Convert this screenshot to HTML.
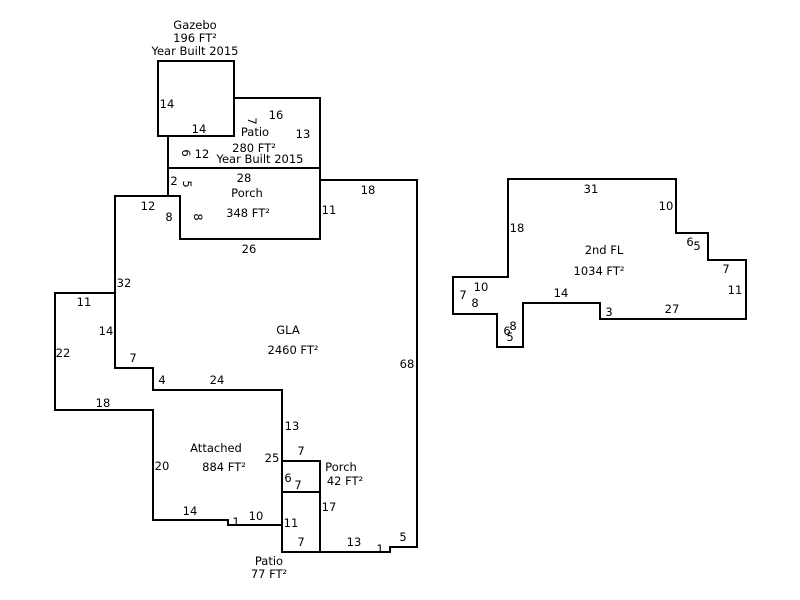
<!DOCTYPE html>
<html><head><style>
html,body{margin:0;padding:0;background:#fff;width:800px;height:600px;overflow:hidden}
svg text{font-family:"DejaVu Sans","Liberation Sans",sans-serif;font-size:11.5px;fill:#000;text-anchor:middle}
</style></head><body>
<svg width="800" height="600" viewBox="0 0 800 600" xmlns="http://www.w3.org/2000/svg">
<g fill="none" stroke="#000" stroke-width="2">
<rect x="158" y="61" width="76" height="75"/>
<polyline points="168,136 168,196"/>
<polyline points="234,98 320,98 320,239 180,239 180,196 115,196 115,368 153,368 153,390 282,390 282,552 390,552 390,547 417,547 417,180 320,180"/>
<line x1="168" y1="168" x2="320" y2="168"/>
<polyline points="115,293 55,293 55,410 153,410 153,520 228,520 228,525 282,525"/>
<polyline points="282,461 320,461 320,552 282,552"/>
<line x1="282" y1="492" x2="320" y2="492"/>
<polygon points="508,179 676,179 676,233 708,233 708,260 746,260 746,319 600,319 600,303 523,303 523,347 497,347 497,314 453,314 453,277 508,277"/>
</g>
<text x="195" y="29">Gazebo</text>
<text x="195" y="42">196 FT²</text>
<text x="195" y="55">Year Built 2015</text>
<text x="167" y="108">14</text>
<text x="199" y="133">14</text>
<text x="276" y="119">16</text>
<text x="303" y="138">13</text>
<text x="248" y="121" transform="rotate(90 248 121)">7</text>
<text x="255" y="136">Patio</text>
<text x="254" y="152">280 FT²</text>
<text x="260" y="163">Year Built 2015</text>
<text x="182" y="153" transform="rotate(90 182 153)">6</text>
<text x="202" y="158">12</text>
<text x="174" y="185">2</text>
<text x="183" y="184" transform="rotate(90 183 184)">5</text>
<text x="244" y="182">28</text>
<text x="247" y="197">Porch</text>
<text x="248" y="217">348 FT²</text>
<text x="148" y="210">12</text>
<text x="169" y="221">8</text>
<text x="194" y="217" transform="rotate(90 194 217)">8</text>
<text x="329" y="214">11</text>
<text x="249" y="253">26</text>
<text x="368" y="194">18</text>
<text x="124" y="287">32</text>
<text x="84" y="306">11</text>
<text x="106" y="335">14</text>
<text x="63" y="357">22</text>
<text x="133" y="362">7</text>
<text x="162" y="384">4</text>
<text x="217" y="384">24</text>
<text x="103" y="407">18</text>
<text x="288" y="334">GLA</text>
<text x="293" y="354">2460 FT²</text>
<text x="407" y="368">68</text>
<text x="292" y="430">13</text>
<text x="216" y="452">Attached</text>
<text x="224" y="471">884 FT²</text>
<text x="162" y="470">20</text>
<text x="272" y="462">25</text>
<text x="301" y="455">7</text>
<text x="341" y="471">Porch</text>
<text x="345" y="485">42 FT²</text>
<text x="288" y="482">6</text>
<text x="298" y="489">7</text>
<text x="329" y="511">17</text>
<text x="190" y="515">14</text>
<text x="236" y="526">1</text>
<text x="256" y="520">10</text>
<text x="291" y="527">11</text>
<text x="301" y="546">7</text>
<text x="354" y="546">13</text>
<text x="380" y="553">1</text>
<text x="403" y="541">5</text>
<text x="269" y="565">Patio</text>
<text x="269" y="578">77 FT²</text>
<text x="591" y="193">31</text>
<text x="666" y="210">10</text>
<text x="517" y="232">18</text>
<text x="604" y="254">2nd FL</text>
<text x="599" y="275">1034 FT²</text>
<text x="690" y="246">6</text>
<text x="697" y="250">5</text>
<text x="726" y="273">7</text>
<text x="735" y="294">11</text>
<text x="481" y="291">10</text>
<text x="463" y="299">7</text>
<text x="475" y="307">8</text>
<text x="561" y="297">14</text>
<text x="609" y="316">3</text>
<text x="672" y="313">27</text>
<text x="507" y="335">6</text>
<text x="513" y="330">8</text>
<text x="510" y="341">5</text>
</svg>
</body></html>
